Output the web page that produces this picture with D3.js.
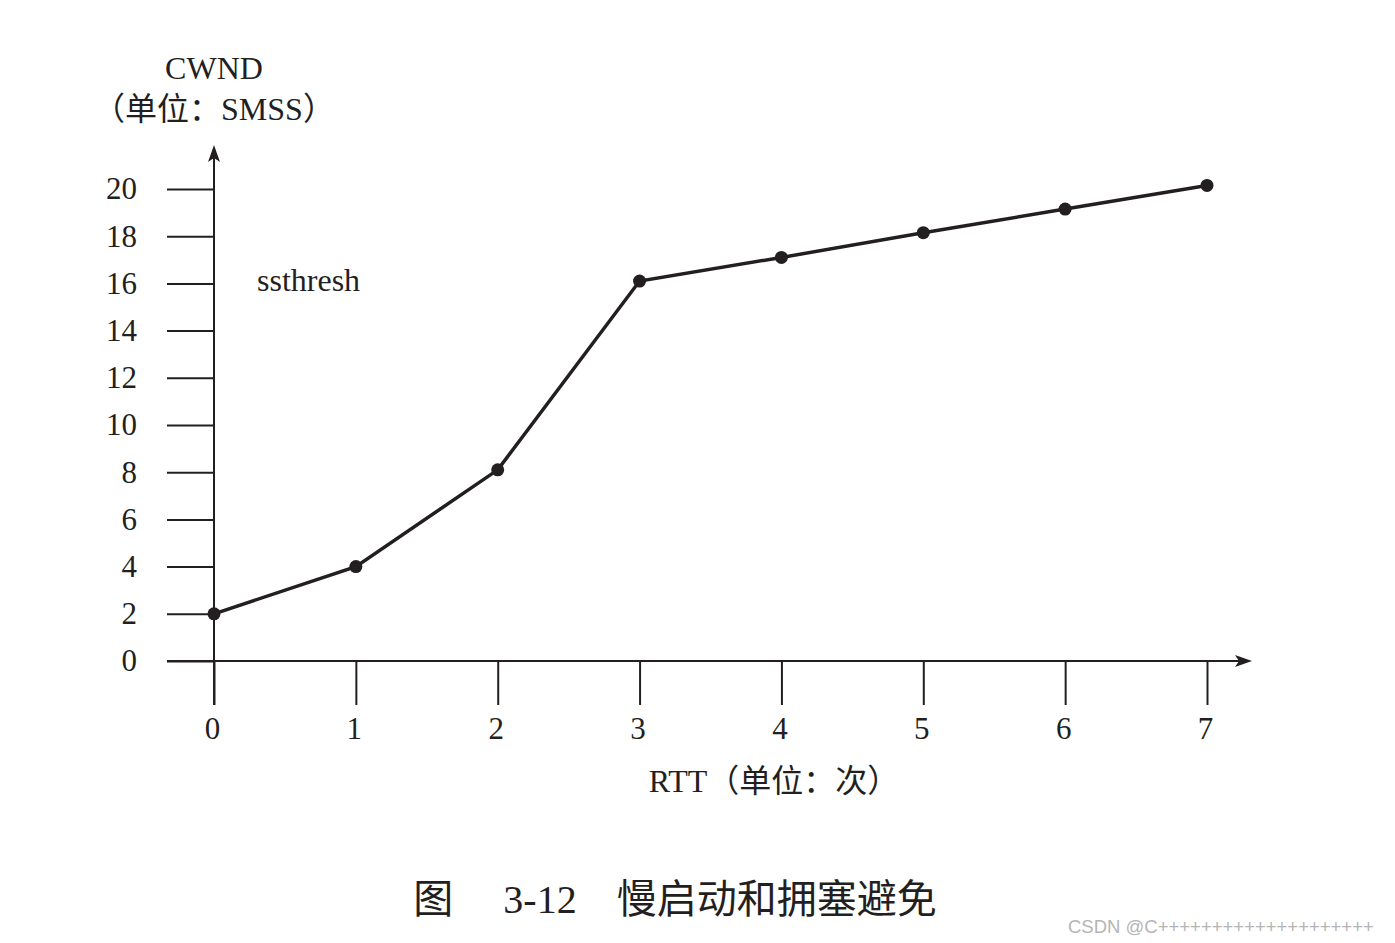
<!DOCTYPE html>
<html><head><meta charset="utf-8">
<script src="https://cdn.jsdelivr.net/npm/d3@7"></script>
<style>body{margin:0;background:#fff}</style></head>
<body><svg id="c" width="1395" height="943"></svg>
<script>
const rtt = [0,1,2,3,4,5,6,7];
const cwnd = [2,4,8.1,16.1,17.1,18.15,19.15,20.15];
const yTicks = [0,2,4,6,8,10,12,14,16,18,20];
const xTicks = [0,1,2,3,4,5,6,7];

const svg = d3.select("#c");
const x = d3.scaleLinear().domain([0,7]).range([214,1207]);
const y = d3.scaleLinear().domain([0,20]).range([661,189]);
const serif = "'Liberation Serif','DejaVu Serif',serif";
const cjk = "'Liberation Serif','Noto Sans CJK SC',serif";
const col = "#231f20";

const ya = d3.axisLeft(y).tickValues(yTicks).tickSize(47).tickPadding(30).tickFormat(d3.format("d"));
const gy = svg.append("g").attr("transform","translate(214,0)").call(ya);
gy.select(".domain").remove();
gy.selectAll("line").attr("stroke",col).attr("stroke-width",2);
gy.selectAll("text").attr("font-family",serif).attr("font-size",31).attr("fill",col).attr("dy","0.32em");
svg.append("line").attr("x1",214).attr("x2",214).attr("y1",150).attr("y2",705).attr("stroke",col).attr("stroke-width",2);
svg.append("path").attr("d","M214,145 L208,162 L214,158 L220,162 Z").attr("fill",col);

const xa = d3.axisBottom(x).tickValues(xTicks).tickSize(44).tickPadding(12).tickFormat(d3.format("d"));
const gx = svg.append("g").attr("transform","translate(0,661)").call(xa);
gx.select(".domain").remove();
gx.selectAll("line").attr("stroke",col).attr("stroke-width",2);
gx.selectAll("text").attr("font-family",serif).attr("font-size",31).attr("fill",col).attr("dx","-2");
svg.append("line").attr("x1",167).attr("x2",1245).attr("y1",661).attr("y2",661).attr("stroke",col).attr("stroke-width",2);
svg.append("path").attr("d","M1252,661 L1235,655 L1239,661 L1235,667 Z").attr("fill",col);

const pts = rtt.map((r,i)=>[r,cwnd[i]]);
svg.append("path").datum(pts).attr("fill","none").attr("stroke",col).attr("stroke-width",3.5)
  .attr("d",d3.line().x(d=>x(d[0])).y(d=>y(d[1])));
svg.selectAll("circle.p").data(pts).join("circle").attr("cx",d=>x(d[0])).attr("cy",d=>y(d[1])).attr("r",6.5).attr("fill",col);

svg.append("text").attr("x",214).attr("y",79).attr("text-anchor","middle").attr("font-family",serif).attr("font-size",32).attr("fill",col).text("CWND");
svg.append("text").attr("x",214).attr("y",120).attr("text-anchor","middle").attr("font-family",cjk).attr("font-size",32).attr("fill",col).text("（单位：SMSS）");
svg.append("text").attr("x",257).attr("y",291).attr("font-family",serif).attr("font-size",32).attr("fill",col).text("ssthresh");
svg.append("text").attr("x",774).attr("y",792).attr("text-anchor","middle").attr("font-family",cjk).attr("font-size",32).attr("fill",col).text("RTT（单位：次）");
svg.append("text").attr("x",675).attr("y",913).attr("text-anchor","middle").attr("font-family",cjk).attr("font-size",40).attr("fill",col).attr("xml:space","preserve").text("图　 3-12　慢启动和拥塞避免");
svg.append("text").attr("x",1068).attr("y",933).attr("font-family","'Liberation Sans',Arial,sans-serif").attr("font-size",18.5).attr("fill","#b5b5b5").text("CSDN @C++++++++++++++++++++");
</script></body></html>
